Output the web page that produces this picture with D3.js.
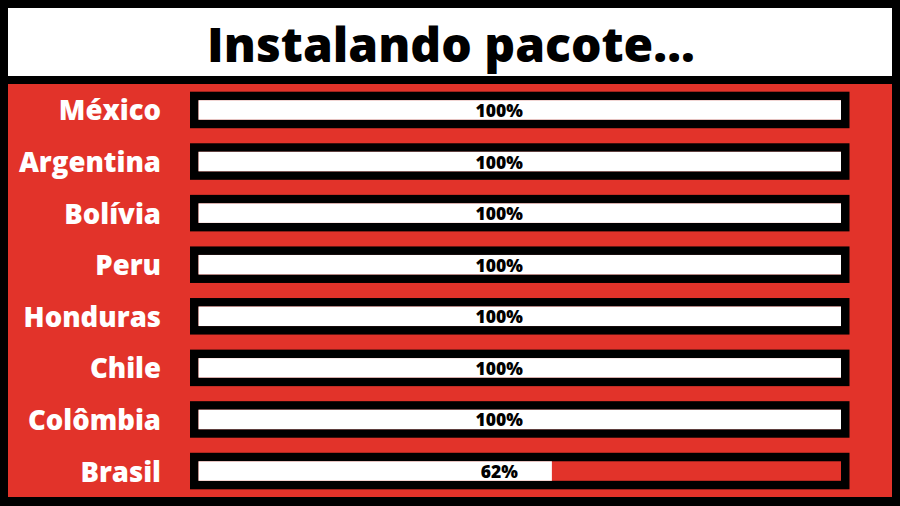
<!DOCTYPE html>
<html><head><meta charset="utf-8">
<script src="https://cdn.jsdelivr.net/npm/d3@7"></script>
<style>html,body{margin:0;padding:0;background:#000;}svg{display:block;}</style>
</head><body>
<svg id="c" width="900" height="506"></svg>
<script>
const title = "Instalando pacote...";
const categories = ["México","Argentina","Bolívia","Peru","Honduras","Chile","Colômbia","Brasil"];
const values = [100,100,100,100,100,100,100,62];          // labelled percentages
const fillValues = [100,100,100,100,100,100,100,55];      // drawn bar fill as seen in the picture

const W = 900, H = 506;
const red = "#e2332a";
const svg = d3.select("#c");
svg.append("rect").attr("x",0).attr("y",0).attr("width",W).attr("height",H).attr("fill","#000");
svg.append("rect").attr("x",8).attr("y",8).attr("width",884).attr("height",68).attr("fill","#fff");
svg.append("rect").attr("x",8).attr("y",84).attr("width",884).attr("height",413).attr("fill",red);

svg.append("text").attr("x",451).attr("y",43).attr("text-anchor","middle").attr("dominant-baseline","central")
  .attr("font-family","'Open Sans',sans-serif").attr("font-weight",800).attr("font-size",48).attr("fill","#000")
  .text(title);

const y = d3.scaleBand().domain(categories).range([91.7,489.3]).paddingInner(0.292).paddingOuter(0);
const x = d3.scaleLinear().domain([0,100]).range([198.5,841]);
const border = 8.5;

const g = svg.append("g");
const rows = g.selectAll("g.row").data(categories).join("g").attr("class","row");
rows.append("rect").attr("x",x(0)-border).attr("y",d=>y(d))
  .attr("width",x(100)-x(0)+2*border).attr("height",y.bandwidth()).attr("fill","#000");
rows.append("rect").attr("x",x(0)).attr("y",d=>y(d)+border)
  .attr("width",x(100)-x(0)).attr("height",y.bandwidth()-2*border).attr("fill",red);
rows.append("rect").attr("x",x(0)).attr("y",d=>y(d)+border)
  .attr("width",(d,i)=>x(fillValues[i])-x(0)).attr("height",y.bandwidth()-2*border).attr("fill","#fff");
rows.append("text").attr("x",x(46.8)).attr("y",d=>y(d)+y.bandwidth()/2)
  .attr("text-anchor","middle").attr("dominant-baseline","central")
  .attr("font-family","'Open Sans',sans-serif").attr("font-weight",800).attr("font-size",17.5).attr("fill","#000")
  .text((d,i)=>values[i]+"%");
rows.append("text").attr("x",161).attr("y",d=>y(d)+y.bandwidth()/2)
  .attr("text-anchor","end").attr("dominant-baseline","central")
  .attr("font-family","'Open Sans',sans-serif").attr("font-weight",800).attr("font-size",27.5).attr("fill","#fff")
  .text(d=>d);
</script>
</body></html>
